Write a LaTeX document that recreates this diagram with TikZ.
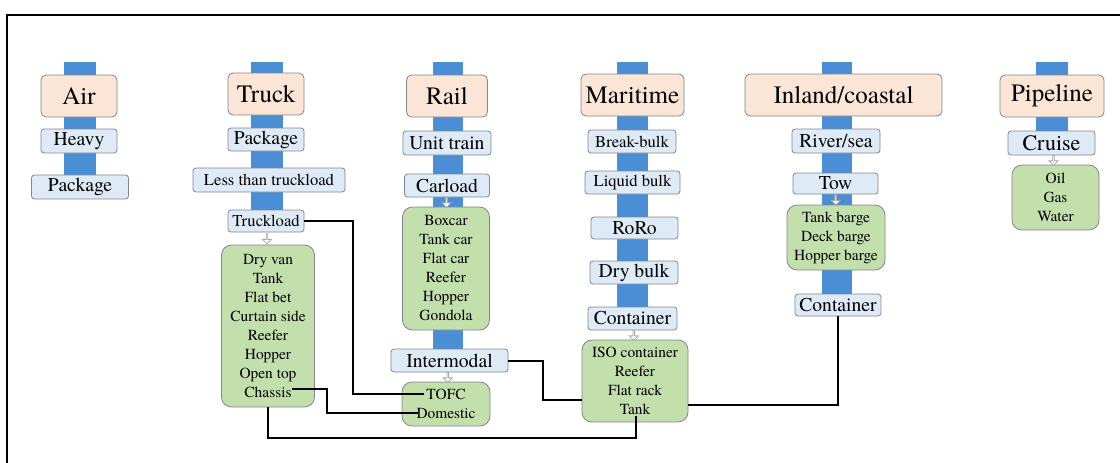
\documentclass[tikz,border=0pt]{standalone}
\usepackage{fontspec}
\setmainfont{TeX Gyre Termes}
\usepackage{xcolor}
\usepackage{tikz}
\usetikzlibrary{positioning, arrows.meta, calc, shapes.arrows}
\definecolor{barblue}{HTML}{4A8FD6}
\definecolor{hdrfill}{HTML}{FBE5D6}
\definecolor{subfill}{HTML}{DEEBF7}
\definecolor{grpfill}{HTML}{C2DFAC}
\definecolor{boxline}{HTML}{7F8690}

\begin{document}
\begin{tikzpicture}[x=0.5pt, y=-0.5pt,
  hdr/.style={draw=boxline, fill=hdrfill, rounded corners=2.5pt, inner sep=0pt, minimum height=21pt, font=\fontsize{12.5}{14}\selectfont},
  sub/.style={draw=boxline, fill=subfill, rounded corners=1.5pt, inner sep=0pt, minimum height=11.5pt, font=\fontsize{9.8}{11}\selectfont},
  subs/.style={sub, font=\fontsize{8.3}{10}\selectfont},
  grp/.style={draw=boxline, fill=grpfill, rounded corners=5pt, inner sep=0pt, align=center, font=\fontsize{7.7}{9.5}\selectfont},
  dnarrow/.style={single arrow, draw=gray!70, fill=white, rotate=-90, inner sep=0pt, minimum width=4.5pt, minimum height=5pt, single arrow head extend=1pt},
  link/.style={line width=1pt, black}]
  \useasboundingbox (0,0) rectangle (1120,462);
  \draw[line width=1pt] (7,15) rectangle (1140,480);
  % bars
  \fill[barblue] (64,62) rectangle (96,178);
  \fill[barblue] (251,62) rectangle (283,212);
  \fill[barblue] (433,62) rectangle (463,352);
  \fill[barblue] (617,62) rectangle (648,310);
  \fill[barblue] (822,62) rectangle (852,296);
  \fill[barblue] (1036,62) rectangle (1068,133);
  % air
  \node[hdr, minimum width=38pt] (air) at (79,96) {Air};
  \node[sub, minimum width=38pt, minimum height=12pt] (airheavy) at (79,141) {Heavy};
  \node[sub, minimum width=48.5pt, minimum height=12pt] (airpkg) at (80,187) {Package};
  % truck
  \node[hdr, minimum width=38pt] (truck) at (266,94) {Truck};
  \node[sub, minimum width=38pt] (trpkg) at (266,139.5) {Package};
  \node[subs, minimum width=76pt, minimum height=12pt] (trltl) at (269,180) {Less than truckload};
  \node[subs, minimum width=38pt, minimum height=11pt] (trtl) at (266,221) {Truckload};
  \node[grp, minimum width=46.5pt, minimum height=81pt] (trgrp) at (268,326)
    {Dry van\\Tank\\Flat bet\\Curtain side\\Reefer\\Hopper\\Open top\\Chassis};
  % rail
  \node[hdr, minimum width=40.5pt] (rail) at (447,96) {Rail};
  \node[sub, minimum width=44pt, minimum height=12pt] (runit) at (447,143) {Unit train};
  \node[sub, minimum width=42.5pt] (rcar) at (447,185.5) {Carload};
  \node[grp, minimum width=43.5pt, minimum height=61.5pt] (rgrp) at (446,268.5)
    {Boxcar\\Tank car\\Flat car\\Reefer\\Hopper\\Gondola};
  \node[sub, minimum width=58.5pt] (rinter) at (449.5,360.5) {Intermodal};
  \node[grp, minimum width=44pt, minimum height=22pt] (rtofc) at (446,404) {TOFC\\Domestic};
  % maritime
  \node[hdr, minimum width=51.5pt] (mar) at (632.5,95) {Maritime};
  \node[subs, minimum width=44pt] (mbreak) at (632,141.5) {Break-bulk};
  \node[subs, minimum width=47.5pt] (mliq) at (632.5,182.5) {Liquid bulk};
  \node[sub, minimum width=43.5pt, minimum height=11pt] (mroro) at (634.5,228) {RoRo};
  \node[sub, minimum width=44pt] (mdry) at (634,272.5) {Dry bulk};
  \node[sub, minimum width=44.5pt] (mcont) at (632.5,318.5) {Container};
  \node[grp, minimum width=53pt, minimum height=41pt] (mgrp) at (635,381)
    {ISO container\\Reefer\\Flat rack\\Tank};
  % inland/coastal
  \node[hdr, minimum width=98.5pt] (inl) at (843.5,95) {Inland/coastal};
  \node[sub, minimum width=44pt, minimum height=12pt] (iriver) at (836,141) {River/sea};
  \node[sub, minimum width=42.5pt, minimum height=10.5pt] (itow) at (835.5,183.5) {Tow};
  \node[grp, minimum width=49pt, minimum height=32.5pt] (igrp) at (836,237.5)
    {Tank barge\\Deck barge\\Hopper barge};
  \node[sub, minimum width=43pt, minimum height=11pt] (icont) at (838,305) {Container};
  % pipeline
  \node[hdr, minimum width=52pt] (pipe) at (1052,96) {Pipeline};
  \node[sub, minimum width=43.5pt, minimum height=12pt, font=\fontsize{11}{12}\selectfont] (pcruise) at (1051.5,143) {Cruise};
  \node[grp, minimum width=43.5pt, minimum height=32.5pt] (pgrp) at (1055.5,197.5) {Oil\\Gas\\Water};
  % small arrows
  \node[dnarrow] at ($(trtl.south)!.5!(trgrp.north)$) {};
  \node[dnarrow] at ($(rcar.south)!.5!(rgrp.north)$) {};
  \node[dnarrow] at ($(rinter.south)!.5!(rtofc.north)$) {};
  \node[dnarrow] at ($(mcont.south)!.5!(mgrp.north)$) {};
  \node[dnarrow] at ($(itow.south)!.5!(igrp.north)$) {};
  \node[dnarrow] at ($(pcruise.south)!.5!(pgrp.north)$) {};
  % links
  \coordinate (tofcin) at (424,394);
  \coordinate (domin) at (418,413);
  \coordinate (chassis) at (292,389);
  \coordinate (mtank) at (636,416);
  \draw[link] (trtl.east) -- ++(49,0) |- (tofcin);
  \draw[link] (chassis) -- ++(35,0) |- (domin);
  \draw[link] (trgrp.south) -- ++(0,31) -| (mtank);
  \draw[link] (rinter.east) -- ++(35,0) |- ([yshift=-9.5pt]mgrp.west);
  \draw[link] ([yshift=-12pt]mgrp.east) -| (icont.south);
\end{tikzpicture}
\end{document}
